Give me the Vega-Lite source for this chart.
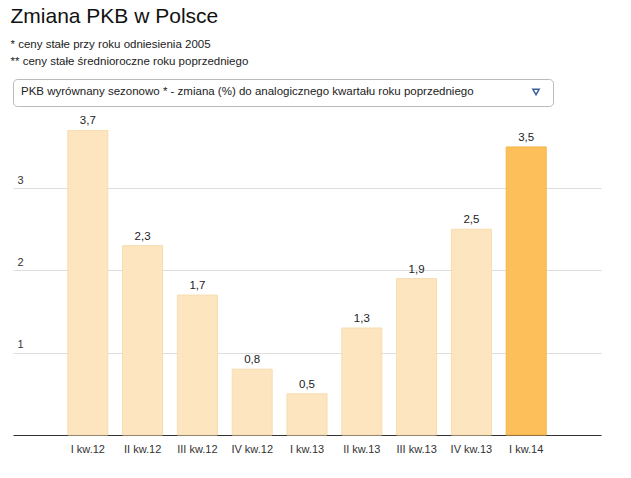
{
  "$schema": "https://vega.github.io/schema/vega-lite/v6.json",
  "width": 588,
  "height": 321,
  "padding": {"left": 10, "top": 6, "right": 26, "bottom": 5},
  "background": "white",
  "config": {
    "font": "Liberation Sans",
    "view": {"stroke": null},
    "locale": {"number": {"decimal": ",", "thousands": " ", "grouping": [3], "currency": ["", " zł"]}}
  },
  "title": {
    "text": "Zmiana PKB w Polsce",
    "subtitle": ["* ceny stałe przy roku odniesienia 2005", "** ceny stałe średnioroczne roku poprzedniego"],
    "anchor": "start",
    "dx": -2,
    "fontSize": 21,
    "fontWeight": "normal",
    "color": "#111",
    "subtitleFontSize": 11.5,
    "subtitleColor": "#222",
    "subtitleLineHeight": 17,
    "subtitlePadding": 12,
    "offset": 11
  },
  "data": {
    "values": [
      {"kwartal": "I kw.12", "zmiana": 3.7, "okres": "wcześniej"},
      {"kwartal": "II kw.12", "zmiana": 2.3, "okres": "wcześniej"},
      {"kwartal": "III kw.12", "zmiana": 1.7, "okres": "wcześniej"},
      {"kwartal": "IV kw.12", "zmiana": 0.8, "okres": "wcześniej"},
      {"kwartal": "I kw.13", "zmiana": 0.5, "okres": "wcześniej"},
      {"kwartal": "II kw.13", "zmiana": 1.3, "okres": "wcześniej"},
      {"kwartal": "III kw.13", "zmiana": 1.9, "okres": "wcześniej"},
      {"kwartal": "IV kw.13", "zmiana": 2.5, "okres": "wcześniej"},
      {"kwartal": "I kw.14", "zmiana": 3.5, "okres": "ostatni"}
    ]
  },
  "encoding": {
    "x": {
      "field": "kwartal",
      "type": "ordinal",
      "sort": null,
      "scale": {"paddingInner": 0.27, "paddingOuter": 1.08},
      "axis": {
        "title": null,
        "labelAngle": 0,
        "ticks": false,
        "domainColor": "#333",
        "domainWidth": 1.2,
        "labelColor": "#333",
        "labelFontSize": 11,
        "labelPadding": 8
      }
    },
    "y": {
      "field": "zmiana",
      "type": "quantitative",
      "scale": {"domain": [0, 3.9], "nice": false},
      "axis": {
        "title": null,
        "values": [1, 2, 3],
        "domain": false,
        "ticks": false,
        "gridColor": "#dddddd",
        "labelAlign": "left",
        "labelBaseline": "bottom",
        "labelPadding": -4,
        "labelOffset": -3,
        "labelFontSize": 11,
        "labelColor": "#333"
      }
    }
  },
  "layer": [
    {
      "mark": {"type": "bar", "strokeWidth": 1},
      "encoding": {
        "color": {
          "field": "okres",
          "type": "nominal",
          "scale": {"domain": ["wcześniej", "ostatni"], "range": ["#fde6bf", "#fdbf59"]},
          "legend": null
        },
        "stroke": {
          "field": "okres",
          "type": "nominal",
          "scale": {"domain": ["wcześniej", "ostatni"], "range": ["#f6dcb0", "#f2b44e"]},
          "legend": null
        }
      }
    },
    {
      "mark": {"type": "text", "baseline": "bottom", "dy": -4, "fontSize": 11.5, "color": "#222"},
      "encoding": {
        "text": {"field": "zmiana", "type": "quantitative", "format": ".1f"}
      }
    },
    {
      "mark": {"type": "point", "opacity": 0},
      "encoding": {
        "shape": {
          "datum": "wybór",
          "type": "nominal",
          "scale": {"range": ["triangle-down"]},
          "legend": {
            "orient": "top",
            "title": "PKB wyrównany sezonowo * - zmiana (%) do analogicznego kwartału roku poprzedniego",
            "titleOrient": "left",
            "titleFontSize": 11.5,
            "titleFontWeight": "normal",
            "titleColor": "#222",
            "titlePadding": 57,
            "titleLimit": 600,
            "labelExpr": "''",
            "symbolOpacity": 1,
            "symbolFillColor": "#3b5f9a",
            "symbolStrokeColor": "#3b5f9a",
            "symbolSize": 40,
            "strokeColor": "#bbbbbb",
            "cornerRadius": 4,
            "padding": 8,
            "offset": 8
          }
        }
      }
    }
  ]
}
